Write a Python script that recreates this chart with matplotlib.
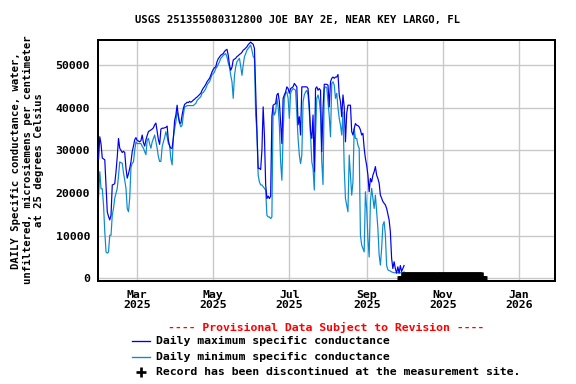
import pandas as pd
import matplotlib
matplotlib.use("Agg")
import matplotlib.pyplot as plt
import matplotlib.dates as mdates
from matplotlib.lines import Line2D

# Daily values, day number counted from 2025-01-01
max_day = list(range(28, 274))
max_val = [28000, 33200, 31500, 28200, 28000, 27800, 21500, 15600, 14500, 13700,
           14800, 21900, 22000, 22200, 25000, 28500, 32800, 30500, 30000, 29500,
           29800, 29500, 25800, 23500, 24500, 25800, 27300, 29700, 31000, 32500,
           33000, 32300, 32200, 32000, 32300, 33600, 31800, 31000, 32500, 33500,
           34400, 34600, 34800, 35000, 35300, 36000, 36400, 34400, 32500, 31400,
           35000, 35200, 35200, 35300, 35400, 35700, 32300, 31000, 30500, 30500,
           33000, 37000, 38300, 40600, 37900, 36400, 36400, 38300, 39800, 40800,
           41000, 41300, 41200, 41500, 41300, 41500, 41800, 42000, 42300, 42500,
           42800, 43100, 43400, 44100, 44600, 45000, 45500, 46100, 46500, 46900,
           47600, 48400, 49000, 49400, 49600, 50800, 51500, 51900, 52300, 52500,
           52700, 53200, 53500, 53700, 52300, 50000, 48800, 49500, 51200, 51400,
           51600, 52000, 52200, 52500, 52700, 53000, 53500, 53700, 54000, 54300,
           54800, 55100, 55400, 55100, 54900, 53900, 44000, 34400, 25800, 25800,
           25500, 30000, 40200, 33600, 22000, 18700, 19300, 18700, 19300, 38000,
           40600, 40800, 41000, 43000, 43400, 41400, 36700, 31600, 42200, 43000,
           43700, 44900, 44500, 43400, 44500, 44700, 44900, 45700, 45300, 44900,
           36000, 37900, 33600, 44900, 44900, 44900, 44900, 44900, 44500, 40600,
           34400, 32800, 38300, 25000, 44500, 44900, 44100, 44500, 44100, 29700,
           39800, 45500, 45500, 45500, 45300, 40200, 46100, 46900, 47200, 46900,
           47200, 47200, 47800, 43000, 41400, 37900, 43000, 40200, 32000, 38700,
           40600, 40600, 40600, 34400, 33600, 35100, 36300, 35900, 35800, 35500,
           34800, 33600, 34000, 30500, 28100, 26500, 24200, 20300, 23400, 22600,
           24200, 25000, 26200, 24200, 23400, 22300, 19500, 18800, 18000, 17600,
           17200, 16400, 15000, 13700, 10900, 4700, 2300, 3900, 2300, 1200,
           2700, 1200, 3000, 1600, 2300, 3000]

min_day = list(range(28, 274))
min_val = [19100, 25000, 21000, 21000, 17200, 10900, 6200, 5900, 6200, 10100,
           10100, 14800, 16400, 18800, 20000, 21100, 24000, 27300, 27100, 27000,
           24700, 23000, 21100, 16400, 15600, 18800, 26000, 27000, 27300, 30000,
           32000, 31600, 31600, 31600, 31600, 31000, 30500, 29700, 29000, 32400,
           32800, 31500, 30500, 32000, 32800, 33600, 32000, 30500, 28500, 27400,
           27400, 30800, 32000, 33000, 34400, 33200, 31600, 31200, 28000, 26600,
           33000, 35000, 36700, 39000, 38300, 36400, 35500, 35900, 38300, 40200,
           40300, 40500, 40500, 40500, 40500, 40500, 40500, 40800, 41000, 41700,
           42000, 42300, 42600, 43400, 43600, 44000, 44500, 45300, 45800, 46100,
           46900, 47800, 48000, 48400, 49200, 49600, 50200, 50800, 51600, 51900,
           52300, 52500, 52700, 51900, 50500, 49500, 47600, 46100, 42200, 47600,
           49600, 50800, 51200, 51600, 49700, 47600, 50000, 52000, 52700, 53500,
           53900, 54300, 54700, 53500, 52000, 51600, 38300, 34400, 24200, 22600,
           21900, 21900, 21500, 21100, 20700, 14800, 14400, 14400, 14000, 14400,
           40200, 38300, 39000, 42200, 40200, 35900, 27300, 23000, 33600, 42200,
           43400, 43700, 42200, 37500, 43400, 44100, 44500, 44300, 44100, 38300,
           32800, 28900, 26900, 28900, 41400, 43000, 43700, 44100, 43000, 39000,
           33600, 27300, 25800, 20700, 33600, 42200, 43000, 41700, 38700, 27300,
           22000, 44500, 44900, 44700, 41400, 38000, 33200, 45700, 46100, 45300,
           42200, 43400, 40000, 37500, 35900, 33600, 39000, 25800, 18700, 17200,
           15600, 28900, 24200, 19500, 22600, 35100, 32800, 32800, 31200, 30500,
           10100, 7800, 7000, 6200, 20300, 16400, 9300, 5000, 17900, 21100,
           18700, 16400, 19500, 15600, 11700, 5500, 3100, 7000, 12500, 13300,
           10100, 3000, 2000, 1800, 1700, 1500, 1400, 1300, 1300, 1300,
           1300, 1300, 1300, 1300, 1300, 1500]

disc_start = "2025-09-30"
disc_end = "2025-12-02"

yticks = [0, 10000, 20000, 30000, 40000, 50000]
title = "USGS 251355080312800 JOE BAY 2E, NEAR KEY LARGO, FL"
ylabel = "DAILY Specific conductance, water,\nunfiltered, microsiemens per centimeter\nat 25 degrees Celsius"

base = pd.Timestamp("2025-01-01")
max_dates = base + pd.to_timedelta(max_day, unit="D")
min_dates = base + pd.to_timedelta(min_day, unit="D")
disc_dates = pd.date_range(disc_start, disc_end, freq="D")

MONO = "DejaVu Sans Mono"
max_color = "#0000ee"
min_color = "#0a8ad2"

fig = plt.figure(figsize=(6, 4), dpi=96)
ax = fig.add_axes([0.170, 0.268, 0.7935, 0.628])

ax.plot(max_dates, max_val, color=max_color, lw=0.9, zorder=3)
ax.plot(min_dates, min_val, color=min_color, lw=0.9, zorder=2)
ax.plot(disc_dates, [0] * len(disc_dates), ls="none", marker="+", ms=9.5,
        mew=3.5, color="black", zorder=4)

ax.set_xlim(base + pd.Timedelta(days=27.5), base + pd.Timedelta(days=394))
ax.set_ylim(-650, 55900)
ax.set_yticks(yticks)
ax.set_yticklabels([str(v) for v in yticks])

ax.xaxis.set_major_locator(mdates.MonthLocator(bymonth=[1, 3, 5, 7, 9, 11]))
ax.xaxis.set_major_formatter(mdates.DateFormatter("%b\n%Y"))

ax.grid(True, color="#c8c8c8", lw=1.0)
ax.set_axisbelow(True)
for s in ax.spines.values():
    s.set_linewidth(1.5)
ax.tick_params(axis="both", length=0, labelsize=8.6)
ax.tick_params(axis="y", pad=6)
ax.tick_params(axis="x", pad=7)
for lab in ax.get_xticklabels() + ax.get_yticklabels():
    lab.set_fontfamily(MONO)
    lab.set_fontweight("bold")
for lab in ax.get_xticklabels():
    lab.set_linespacing(1.0)

fig.text(0.516, 0.949, title, ha="center", va="center", fontsize=7.9,
         family=MONO, weight="bold")
fig.text(0.048, 0.583, ylabel, ha="center", va="center", rotation=90,
         fontsize=7.9, family=MONO, weight="bold", linespacing=1.2)

# legend block below the plot
fig.text(0.566, 0.1484, "---- Provisional Data Subject to Revision ----",
         ha="center", va="center", fontsize=8.6, family=MONO, weight="bold",
         color="red")
leg_y = [0.1128, 0.0711]
leg_labels = ["Daily maximum specific conductance", "Daily minimum specific conductance"]
for yy, col, lab in zip(leg_y, [max_color, min_color], leg_labels):
    fig.add_artist(Line2D([0.2287, 0.2604], [yy, yy], color=col, lw=1.0,
                          transform=fig.transFigure))
    fig.text(0.2703, yy, lab, ha="left", va="center", fontsize=8.6,
             family=MONO, weight="bold")
fig.add_artist(Line2D([0.2443], [0.0305], marker="+", ms=8, mew=2.0,
                      color="black", transform=fig.transFigure))
fig.text(0.2703, 0.0305, "Record has been discontinued at the measurement site.",
         ha="left", va="center", fontsize=8.6, family=MONO, weight="bold")

fig.savefig("out.png", dpi=96)
